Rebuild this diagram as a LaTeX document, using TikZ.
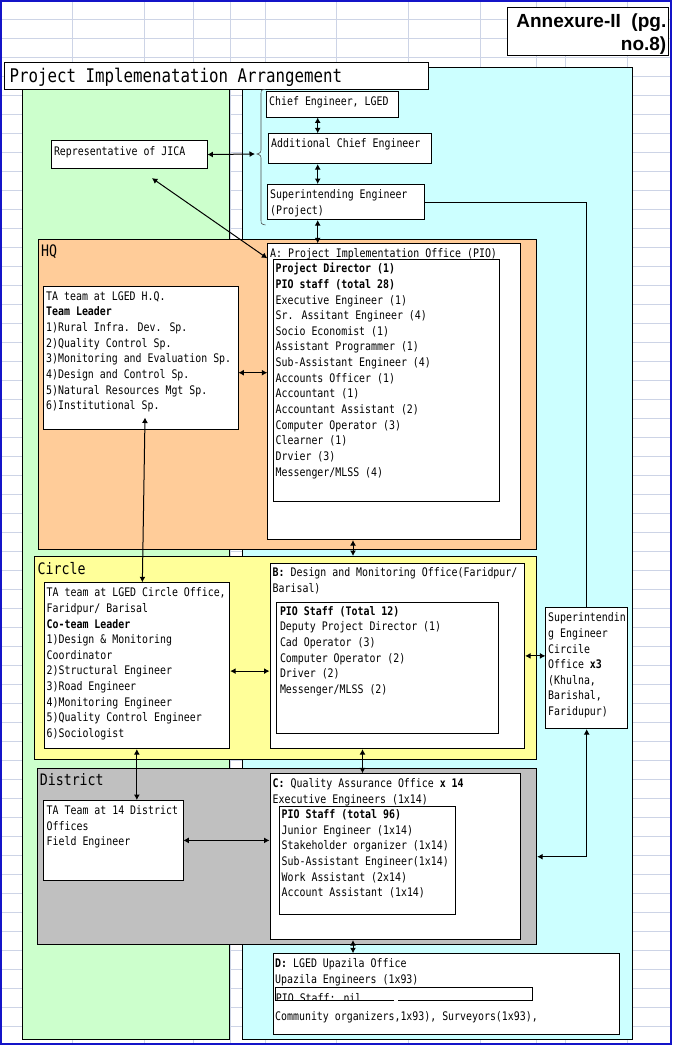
\documentclass[tikz,border=0pt]{standalone}
\usepackage{fontspec}
\newfontfamily\gothic{DejaVu Sans Mono}[FakeStretch=0.84]
\newfontfamily\annexfont{Liberation Sans}
\usetikzlibrary{arrows.meta,calc}
\definecolor{frameblue}{RGB}{20,20,200}
\definecolor{gridblue}{RGB}{205,212,230}
\definecolor{jicagreen}{RGB}{204,255,204}
\definecolor{lgedcyan}{RGB}{204,255,255}
\definecolor{hqpeach}{RGB}{255,204,153}
\definecolor{circleyellow}{RGB}{255,255,153}
\definecolor{districtgray}{RGB}{192,192,192}
\begin{document}
\begin{tikzpicture}
  [x=1pt,y=-1pt,
   panel/.style={draw,anchor=north west,inner sep=0pt,line width=0.8pt},
   box/.style={draw,fill=white,anchor=north west,inner sep=0pt,line width=0.8pt},
   txt/.style={anchor=north west,inner sep=0pt,align=left,font=\gothic\fontsize{11.8}{15.65}\selectfont},
   lbl/.style={anchor=base west,inner sep=0pt,font=\gothic\fontsize{15.8}{18}\selectfont},
   link/.style={<->,>={Latex[length=5.5pt,width=6pt]},line width=1pt}]
  \useasboundingbox (0,0) rectangle (675,1046);
  \fill[white] (0,0) rectangle (675,1046);
  % sheet grid
  \foreach \gy in {19,38,...,1026}
    \draw[gridblue,line width=0.8pt] (1,\gy) -- (671,\gy);
  \foreach \gx in {72,144,193,230,265,336,408,480,536,565,627.5}
    \draw[gridblue,line width=0.8pt] (\gx,1) -- (\gx,1044);
  \draw[frameblue,line width=2pt] (1,1) rectangle (671,1044);

  % side panels
  \node[panel,fill=jicagreen,minimum width=207.9,minimum height=969.3] (jicaside) at (21.5,70) {};
  \node[panel,fill=lgedcyan,minimum width=390,minimum height=972.6] (lgedside) at (242,66.7) {};

  \node[box,minimum width=423.2,minimum height=27] (title) at (4.3,62.3) {};
  \node[anchor=base west,inner sep=0pt,font=\gothic\fontsize{18.8}{22}\selectfont] (titletxt) at (9.3,82.7) {Project Implemenatation Arrangement};
  \node[box,minimum width=161,minimum height=47.7] (annex) at (507.3,7.3) {};
  \node[anchor=north east,inner sep=0pt,align=right,font=\annexfont\bfseries\fontsize{19}{22.3}\selectfont] (annextxt) at (666.5,12.1) {\strut Annexure-II\ \ (pg.\\no.8)};

  % levels
  \node[panel,fill=hqpeach,minimum width=498.9,minimum height=310] (hq) at (37.5,239.3) {};
  \node[lbl] (hqlbl) at (41,256.7) {HQ};
  \node[panel,fill=circleyellow,minimum width=502,minimum height=203] (circle) at (34.4,556) {};
  \node[lbl] (circlelbl) at (37.5,574) {Circle};
  \node[panel,fill=districtgray,minimum width=499.8,minimum height=176] (district) at (36.6,768.3) {};
  \node[lbl] (districtlbl) at (39.6,785.8) {District};

  % LGED chain
  \node[box,minimum width=132.4,minimum height=26] (chief) at (265.6,90.7) {};
  \node[txt] (chieftxt) at (269,94.25) {\strut Chief Engineer, LGED};
  \node[box,minimum width=162.7,minimum height=30] (addl) at (267.8,133.3) {};
  \node[txt] (addltxt) at (271,136.55) {\strut Additional Chief Engineer};
  \node[box,minimum width=155.8,minimum height=28.3] (jica) at (50.8,140) {};
  \node[txt] (jicatxt) at (53.8,143.95) {\strut Representative of JICA};
  \node[box,minimum width=157,minimum height=35.3] (seproj) at (267,184) {};
  \node[txt] (seprojtxt) at (270,187.25) {\strut Superintending Engineer\\(Project)};

  % HQ
  \node[box,minimum width=252.3,minimum height=296] (pio) at (267.3,243.3) {};
  \node[txt] (piotitle) at (270,245.95) {\strut A: Project Implementation Office (PIO)};
  \node[box,minimum width=226,minimum height=241.4] (piostaff) at (272.5,259.3) {};
  \node[txt] (piostafftxt) at (275.5,261.55) {\strut\textbf{Project Director (1)}\\\textbf{PIO staff (total 28)}\\Executive Engineer (1)\\Sr. Assitant Engineer (4)\\Socio Economist (1)\\Assistant Programmer (1)\\Sub-Assistant Engineer (4)\\Accounts Officer (1)\\Accountant (1)\\Accountant Assistant (2)\\Computer Operator (3)\\Clearner (1)\\Drvier (3)\\Messenger/MLSS (4)};
  \node[box,minimum width=195,minimum height=143.6] (hqta) at (42.6,285.7) {};
  \node[txt] (hqtatxt) at (46,288.95) {\strut TA team at LGED H.Q.\\\textbf{Team Leader}\\1)Rural Infra. Dev. Sp.\\2)Quality Control Sp.\\3)Monitoring and Evaluation Sp.\\4)Design and Control Sp.\\5)Natural Resources Mgt Sp.\\6)Institutional Sp.};

  % Circle
  \node[box,minimum width=185.9,minimum height=166] (ccta) at (43.5,582.3) {};
  \node[txt] (cctatxt) at (46.5,585.55) {\strut TA team at LGED Circle Office,\\Faridpur/ Barisal\\\textbf{Co-team Leader}\\1)Design \& Monitoring\\Coordinator\\2)Structural Engineer\\3)Road Engineer\\4)Monitoring Engineer\\5)Quality Control Engineer\\6)Sociologist};
  \node[box,minimum width=254.8,minimum height=185.6] (bbox) at (269.5,562.7) {};
  \node[txt] (btitle) at (272.5,565.55) {\strut\textbf{B:} Design and Monitoring Office(Faridpur/\\Barisal)};
  \node[box,minimum width=221.2,minimum height=131.6] (bstaff) at (276.4,601.7) {};
  \node[txt] (bstafftxt) at (279.8,603.95) {\strut\textbf{PIO Staff (Total 12)}\\Deputy Project Director (1)\\Cad Operator (3)\\Computer Operator (2)\\Driver (2)\\Messenger/MLSS (2)};
  \node[box,minimum width=81.8,minimum height=121.6] (secirc) at (545.4,606.7) {};
  \node[txt] (secirctxt) at (548,610.55) {\strut Superintendin\\g Engineer\\Circile\\Office \textbf{x3}\\(Khulna,\\Barishal,\\Faridupur)};

  % District
  \node[box,minimum width=139.5,minimum height=80] (distta) at (43,800) {};
  \node[txt] (disttatxt) at (46.5,803.25) {\strut TA Team at 14 District\\Offices\\Field Engineer};
  \node[box,minimum width=250.5,minimum height=166] (cbox) at (269.5,773.3) {};
  \node[txt] (ctitle) at (272.5,776.55) {\strut\textbf{C:} Quality Assurance Office \textbf{x 14}\\Executive Engineers (1x14)};
  \node[box,minimum width=176.1,minimum height=108.6] (cstaff) at (278.5,805.7) {};
  \node[txt] (cstafftxt) at (281.5,807.25) {\strut\textbf{PIO Staff (total 96)}\\Junior Engineer (1x14)\\Stakeholder organizer (1x14)\\Sub-Assistant Engineer(1x14)\\Work Assistant (2x14)\\Account Assistant (1x14)};

  % Upazila
  \node[box,minimum width=346.1,minimum height=81] (dbox) at (272.5,953.3) {};
  \node[txt] (dtxt) at (275,956.55) {\strut\textbf{D:} LGED Upazila Office\\Upazila Engineers (1x93)};
  \begin{scope}
    \clip (275,987.3) rectangle (532.7,1000.7);
    \node[txt] (dpiotxt) at (275.7,990.85) {\strut PIO Staff: nil};
  \end{scope}
  \draw[line width=0.8pt] (394,1000.7) -| (275,987.3) -| (532.7,1000.7) -- (398.3,1000.7);
  \node[txt] (dcommtxt) at (275,1008.95) {\strut Community organizers,1x93), Surveyors(1x93),};

  % brace
  \draw[black!70,line width=0.6pt] (265.5,89.3) .. controls (261,90) .. (261,95) -- (261,148)
    .. controls (261,152.5) .. (257,154) .. controls (261,155.5) .. (261,160) -- (261,219)
    .. controls (261,224) .. (265.5,225);
  \coordinate (bracetip) at (255,154);

  % links
  \coordinate (ceaxis) at (317.7,0);
  \coordinate (pioaxis) at (353,0);
  \coordinate (qaaxis) at (362.5,0);
  \foreach \from/\to in {chief/addl,addl/seproj,seproj/pio}
    \draw[link] (\from.south -| ceaxis) -- (\to.north -| ceaxis);
  \draw[link] (jica.east) -- (bracetip);
  \draw[link] ($(jica.south)+(22.8,9)$) -- ($(pio.north west)+(0,15)$);
  \coordinate (hqlink) at ($(hqta.east)+(0,14.8)$);
  \draw[link] (hqlink) -- (pio.west |- hqlink);
  \draw[link] ($(hqta.south)+(4.5,-12.6)$) -- ($(ccta.north)+(5.5,0)$);
  \draw[link] (pio.south -| pioaxis) -- (circle.north -| pioaxis);
  \coordinate (cclink) at ($(ccta.east)+(0,5.4)$);
  \draw[link] (cclink) -- (bbox.west |- cclink);
  \draw[link] (bbox.east) -- (secirc.west |- bbox.east);
  \draw[line width=1pt] (seproj.east) -| (secirc.north);
  \draw[link] (secirc.south) |- (district.east);
  \draw[link] (ccta.south) -- (ccta.south |- distta.north);
  \draw[link] (bbox.south -| qaaxis) -- (cbox.north -| qaaxis);
  \draw[link] (distta.east) -- (cbox.west |- distta.east);
  \draw[link] (cbox.south -| pioaxis) -- (dbox.north -| pioaxis);
\end{tikzpicture}
\end{document}
